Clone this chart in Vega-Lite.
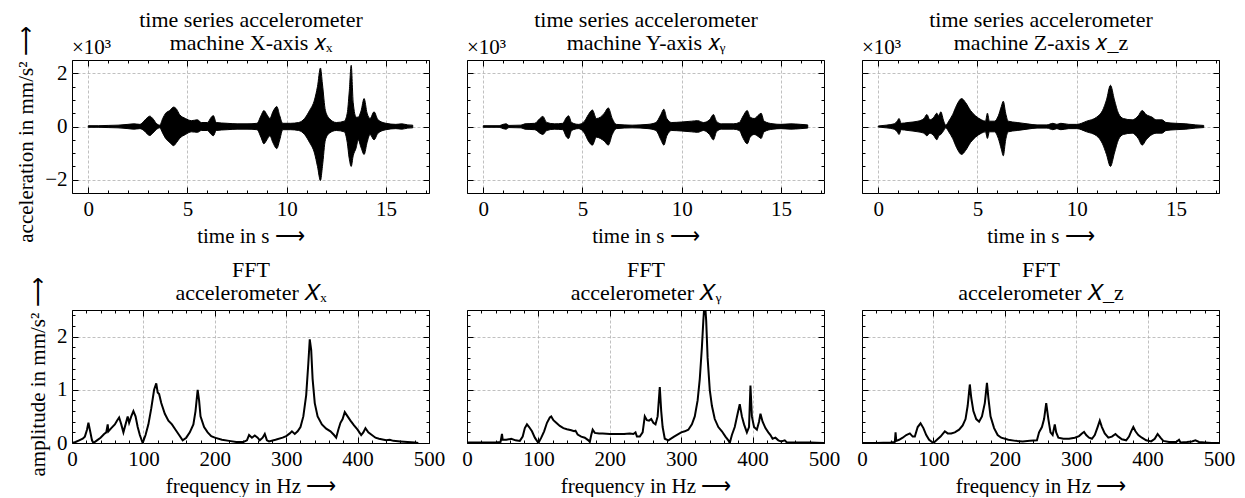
{
"$schema": "https://vega.github.io/schema/vega-lite/v6.json",
"padding": {"left": 15, "top": 8, "right": 3, "bottom": 0},
"background": "white",
"config": {
  "font": "Liberation Serif",
  "view": {"stroke": "black", "strokeWidth": 1},
  "axis": {"labelFont": "Liberation Serif", "labelFontSize": 21, "labelColor": "black", "titleFont": "Liberation Serif", "titleFontSize": 21, "titleFontWeight": "normal", "titleColor": "black", "domain": false, "tickColor": "black", "tickWidth": 1, "gridColor": "#b0b0b0", "gridDash": [3, 2], "gridWidth": 0.8, "labelFlush": false, "labelOverlap": false, "labelPadding": 11, "titlePadding": 3}
},
"datasets": {
  "tx": [{"t":0,"hi":0.03,"lo":-0.03},{"t":0.5,"hi":0.03,"lo":-0.03},{"t":1.0,"hi":0.04,"lo":-0.04},{"t":1.5,"hi":0.05,"lo":-0.05},{"t":2.0,"hi":0.08,"lo":-0.08},{"t":2.3,"hi":0.1,"lo":-0.1},{"t":2.6,"hi":0.08,"lo":-0.08},{"t":2.8,"hi":0.2,"lo":-0.15},{"t":3.0,"hi":0.35,"lo":-0.3},{"t":3.1,"hi":0.39,"lo":-0.34},{"t":3.25,"hi":0.3,"lo":-0.25},{"t":3.45,"hi":0.1,"lo":-0.1},{"t":3.6,"hi":0.05,"lo":-0.05},{"t":3.75,"hi":0.3,"lo":-0.25},{"t":3.9,"hi":0.5,"lo":-0.45},{"t":4.1,"hi":0.6,"lo":-0.6},{"t":4.3,"hi":0.73,"lo":-0.72},{"t":4.45,"hi":0.65,"lo":-0.6},{"t":4.6,"hi":0.45,"lo":-0.45},{"t":4.9,"hi":0.3,"lo":-0.3},{"t":5.2,"hi":0.22,"lo":-0.2},{"t":5.5,"hi":0.25,"lo":-0.22},{"t":5.7,"hi":0.15,"lo":-0.15},{"t":6.0,"hi":0.15,"lo":-0.15},{"t":6.2,"hi":0.35,"lo":-0.3},{"t":6.3,"hi":0.41,"lo":-0.35},{"t":6.45,"hi":0.15,"lo":-0.15},{"t":7.0,"hi":0.12,"lo":-0.12},{"t":7.5,"hi":0.1,"lo":-0.1},{"t":8.0,"hi":0.1,"lo":-0.1},{"t":8.5,"hi":0.12,"lo":-0.12},{"t":8.7,"hi":0.4,"lo":-0.4},{"t":8.85,"hi":0.6,"lo":-0.65},{"t":9.0,"hi":0.45,"lo":-0.5},{"t":9.15,"hi":0.3,"lo":-0.35},{"t":9.3,"hi":0.55,"lo":-0.6},{"t":9.5,"hi":0.75,"lo":-0.83},{"t":9.65,"hi":0.4,"lo":-0.5},{"t":9.8,"hi":0.12,"lo":-0.12},{"t":10.2,"hi":0.12,"lo":-0.12},{"t":10.6,"hi":0.15,"lo":-0.15},{"t":10.9,"hi":0.3,"lo":-0.3},{"t":11.15,"hi":0.6,"lo":-0.6},{"t":11.4,"hi":1.0,"lo":-1.0},{"t":11.55,"hi":1.5,"lo":-1.5},{"t":11.7,"hi":2.2,"lo":-2.03},{"t":11.8,"hi":1.6,"lo":-1.5},{"t":11.95,"hi":0.6,"lo":-0.5},{"t":12.15,"hi":0.3,"lo":-0.25},{"t":12.5,"hi":0.15,"lo":-0.15},{"t":12.9,"hi":0.2,"lo":-0.2},{"t":13.05,"hi":0.5,"lo":-0.6},{"t":13.15,"hi":1.3,"lo":-1.2},{"t":13.25,"hi":2.3,"lo":-1.5},{"t":13.35,"hi":0.9,"lo":-1.1},{"t":13.5,"hi":0.35,"lo":-0.8},{"t":13.6,"hi":0.35,"lo":-0.5},{"t":13.75,"hi":0.6,"lo":-0.8},{"t":13.9,"hi":1.05,"lo":-1.05},{"t":14.05,"hi":0.5,"lo":-0.6},{"t":14.2,"hi":0.3,"lo":-0.3},{"t":14.4,"hi":0.55,"lo":-0.5},{"t":14.6,"hi":0.25,"lo":-0.25},{"t":15.0,"hi":0.12,"lo":-0.12},{"t":15.5,"hi":0.08,"lo":-0.08},{"t":15.8,"hi":0.1,"lo":-0.1},{"t":16.1,"hi":0.06,"lo":-0.06},{"t":16.35,"hi":0.05,"lo":-0.05}],
  "ty": [{"t":0,"hi":0.03,"lo":-0.03},{"t":0.8,"hi":0.03,"lo":-0.03},{"t":1.0,"hi":0.08,"lo":-0.08},{"t":1.15,"hi":0.1,"lo":-0.1},{"t":1.3,"hi":0.04,"lo":-0.04},{"t":1.9,"hi":0.05,"lo":-0.05},{"t":2.1,"hi":0.1,"lo":-0.1},{"t":2.6,"hi":0.12,"lo":-0.12},{"t":2.85,"hi":0.3,"lo":-0.25},{"t":3.0,"hi":0.38,"lo":-0.3},{"t":3.2,"hi":0.15,"lo":-0.15},{"t":3.6,"hi":0.1,"lo":-0.1},{"t":4.0,"hi":0.12,"lo":-0.12},{"t":4.2,"hi":0.35,"lo":-0.4},{"t":4.3,"hi":0.4,"lo":-0.45},{"t":4.45,"hi":0.15,"lo":-0.15},{"t":4.8,"hi":0.08,"lo":-0.08},{"t":5.1,"hi":0.2,"lo":-0.25},{"t":5.3,"hi":0.45,"lo":-0.55},{"t":5.5,"hi":0.62,"lo":-0.7},{"t":5.7,"hi":0.3,"lo":-0.4},{"t":5.9,"hi":0.35,"lo":-0.45},{"t":6.1,"hi":0.5,"lo":-0.55},{"t":6.3,"hi":0.7,"lo":-0.7},{"t":6.5,"hi":0.3,"lo":-0.3},{"t":6.7,"hi":0.08,"lo":-0.08},{"t":7.5,"hi":0.05,"lo":-0.05},{"t":8.3,"hi":0.08,"lo":-0.08},{"t":8.7,"hi":0.15,"lo":-0.15},{"t":8.95,"hi":0.45,"lo":-0.5},{"t":9.1,"hi":0.65,"lo":-0.7},{"t":9.25,"hi":0.3,"lo":-0.35},{"t":9.5,"hi":0.15,"lo":-0.15},{"t":10.0,"hi":0.17,"lo":-0.17},{"t":10.5,"hi":0.2,"lo":-0.2},{"t":10.8,"hi":0.22,"lo":-0.22},{"t":11.1,"hi":0.15,"lo":-0.15},{"t":11.4,"hi":0.25,"lo":-0.3},{"t":11.6,"hi":0.45,"lo":-0.5},{"t":11.75,"hi":0.2,"lo":-0.2},{"t":12.0,"hi":0.1,"lo":-0.1},{"t":12.6,"hi":0.1,"lo":-0.1},{"t":12.9,"hi":0.15,"lo":-0.15},{"t":13.1,"hi":0.4,"lo":-0.45},{"t":13.3,"hi":0.6,"lo":-0.65},{"t":13.45,"hi":0.35,"lo":-0.4},{"t":13.65,"hi":0.3,"lo":-0.3},{"t":13.9,"hi":0.45,"lo":-0.4},{"t":14.0,"hi":0.5,"lo":-0.45},{"t":14.15,"hi":0.2,"lo":-0.2},{"t":14.6,"hi":0.1,"lo":-0.1},{"t":15.0,"hi":0.08,"lo":-0.08},{"t":15.5,"hi":0.1,"lo":-0.1},{"t":16.0,"hi":0.08,"lo":-0.08},{"t":16.35,"hi":0.06,"lo":-0.06}],
  "tz": [{"t":0,"hi":0.02,"lo":-0.02},{"t":0.4,"hi":0.05,"lo":-0.05},{"t":0.8,"hi":0.1,"lo":-0.1},{"t":0.95,"hi":0.2,"lo":-0.2},{"t":1.05,"hi":0.3,"lo":-0.3},{"t":1.15,"hi":0.12,"lo":-0.12},{"t":1.5,"hi":0.15,"lo":-0.15},{"t":2.0,"hi":0.2,"lo":-0.2},{"t":2.3,"hi":0.3,"lo":-0.25},{"t":2.45,"hi":0.45,"lo":-0.35},{"t":2.6,"hi":0.25,"lo":-0.25},{"t":2.8,"hi":0.35,"lo":-0.35},{"t":2.95,"hi":0.5,"lo":-0.5},{"t":3.05,"hi":0.4,"lo":-0.35},{"t":3.15,"hi":0.55,"lo":-0.3},{"t":3.3,"hi":0.2,"lo":-0.15},{"t":3.4,"hi":0.05,"lo":-0.05},{"t":3.55,"hi":0.2,"lo":-0.2},{"t":3.75,"hi":0.45,"lo":-0.45},{"t":3.95,"hi":0.8,"lo":-0.8},{"t":4.2,"hi":1.05,"lo":-1.05},{"t":4.4,"hi":0.9,"lo":-0.9},{"t":4.65,"hi":0.6,"lo":-0.6},{"t":4.9,"hi":0.4,"lo":-0.4},{"t":5.2,"hi":0.25,"lo":-0.25},{"t":5.4,"hi":0.2,"lo":-0.2},{"t":5.5,"hi":0.5,"lo":-0.45},{"t":5.6,"hi":0.2,"lo":-0.2},{"t":5.85,"hi":0.2,"lo":-0.2},{"t":6.05,"hi":0.4,"lo":-0.45},{"t":6.2,"hi":0.75,"lo":-0.85},{"t":6.3,"hi":0.95,"lo":-1.1},{"t":6.42,"hi":0.5,"lo":-0.5},{"t":6.55,"hi":0.2,"lo":-0.2},{"t":7.0,"hi":0.15,"lo":-0.15},{"t":7.5,"hi":0.1,"lo":-0.1},{"t":8.0,"hi":0.06,"lo":-0.06},{"t":8.5,"hi":0.06,"lo":-0.06},{"t":8.8,"hi":0.12,"lo":-0.12},{"t":9.0,"hi":0.08,"lo":-0.08},{"t":9.2,"hi":0.12,"lo":-0.12},{"t":9.6,"hi":0.08,"lo":-0.08},{"t":10.0,"hi":0.08,"lo":-0.08},{"t":10.5,"hi":0.2,"lo":-0.2},{"t":11.0,"hi":0.35,"lo":-0.35},{"t":11.3,"hi":0.6,"lo":-0.65},{"t":11.5,"hi":1.0,"lo":-1.05},{"t":11.7,"hi":1.55,"lo":-1.5},{"t":11.9,"hi":1.0,"lo":-1.0},{"t":12.1,"hi":0.5,"lo":-0.5},{"t":12.35,"hi":0.3,"lo":-0.3},{"t":12.8,"hi":0.25,"lo":-0.25},{"t":13.1,"hi":0.4,"lo":-0.45},{"t":13.3,"hi":0.6,"lo":-0.7},{"t":13.5,"hi":0.45,"lo":-0.5},{"t":13.8,"hi":0.35,"lo":-0.3},{"t":14.0,"hi":0.25,"lo":-0.25},{"t":14.3,"hi":0.25,"lo":-0.25},{"t":14.5,"hi":0.15,"lo":-0.15},{"t":15.0,"hi":0.12,"lo":-0.12},{"t":15.5,"hi":0.1,"lo":-0.1},{"t":16.0,"hi":0.06,"lo":-0.06},{"t":16.4,"hi":0.04,"lo":-0.04}],
  "fx": [{"f":0,"a":0},{"f":5,"a":0.02},{"f":10,"a":0.05},{"f":15,"a":0.08},{"f":18,"a":0.12},{"f":21,"a":0.25},{"f":23,"a":0.38},{"f":25,"a":0.25},{"f":28,"a":0.05},{"f":30,"a":0.0},{"f":35,"a":0.05},{"f":40,"a":0.1},{"f":45,"a":0.17},{"f":48,"a":0.2},{"f":50,"a":0.35},{"f":51,"a":0.22},{"f":55,"a":0.28},{"f":60,"a":0.35},{"f":63,"a":0.42},{"f":66,"a":0.48},{"f":69,"a":0.35},{"f":72,"a":0.2},{"f":75,"a":0.35},{"f":78,"a":0.5},{"f":80,"a":0.38},{"f":83,"a":0.5},{"f":86,"a":0.6},{"f":89,"a":0.5},{"f":92,"a":0.3},{"f":95,"a":0.15},{"f":99,"a":0.0},{"f":103,"a":0.15},{"f":107,"a":0.35},{"f":111,"a":0.65},{"f":115,"a":1.0},{"f":118,"a":1.12},{"f":120,"a":0.95},{"f":122,"a":0.92},{"f":125,"a":0.75},{"f":130,"a":0.55},{"f":135,"a":0.42},{"f":140,"a":0.35},{"f":145,"a":0.25},{"f":150,"a":0.15},{"f":155,"a":0.05},{"f":160,"a":0.1},{"f":165,"a":0.2},{"f":170,"a":0.35},{"f":173,"a":0.6},{"f":176,"a":1.0},{"f":178,"a":0.8},{"f":180,"a":0.5},{"f":185,"a":0.3},{"f":190,"a":0.2},{"f":195,"a":0.13},{"f":200,"a":0.1},{"f":210,"a":0.06},{"f":220,"a":0.04},{"f":230,"a":0.02},{"f":240,"a":0.02},{"f":245,"a":0.05},{"f":248,"a":0.15},{"f":252,"a":0.1},{"f":256,"a":0.14},{"f":260,"a":0.1},{"f":263,"a":0.05},{"f":267,"a":0.1},{"f":270,"a":0.17},{"f":273,"a":0.05},{"f":276,"a":0.03},{"f":285,"a":0.06},{"f":295,"a":0.1},{"f":300,"a":0.13},{"f":305,"a":0.18},{"f":308,"a":0.22},{"f":312,"a":0.17},{"f":316,"a":0.22},{"f":320,"a":0.3},{"f":324,"a":0.5},{"f":328,"a":0.9},{"f":331,"a":1.5},{"f":333,"a":1.95},{"f":335,"a":1.75},{"f":337,"a":1.2},{"f":340,"a":0.75},{"f":344,"a":0.5},{"f":350,"a":0.35},{"f":356,"a":0.27},{"f":362,"a":0.22},{"f":367,"a":0.15},{"f":370,"a":0.1},{"f":373,"a":0.25},{"f":376,"a":0.38},{"f":379,"a":0.45},{"f":382,"a":0.58},{"f":386,"a":0.5},{"f":390,"a":0.42},{"f":395,"a":0.33},{"f":400,"a":0.25},{"f":405,"a":0.15},{"f":408,"a":0.2},{"f":411,"a":0.28},{"f":415,"a":0.2},{"f":420,"a":0.15},{"f":425,"a":0.1},{"f":430,"a":0.08},{"f":440,"a":0.05},{"f":445,"a":0.06},{"f":450,"a":0.04},{"f":460,"a":0.03},{"f":470,"a":0.02},{"f":480,"a":0.01},{"f":485,"a":0.0}],
  "fy": [{"f":0,"a":0.01},{"f":20,"a":0.01},{"f":40,"a":0.01},{"f":47,"a":0.02},{"f":49,"a":0.17},{"f":50,"a":0.06},{"f":55,"a":0.06},{"f":62,"a":0.08},{"f":68,"a":0.05},{"f":74,"a":0.04},{"f":78,"a":0.12},{"f":81,"a":0.28},{"f":84,"a":0.35},{"f":87,"a":0.3},{"f":91,"a":0.22},{"f":95,"a":0.1},{"f":100,"a":0.0},{"f":104,"a":0.1},{"f":108,"a":0.22},{"f":112,"a":0.38},{"f":116,"a":0.48},{"f":118,"a":0.5},{"f":121,"a":0.43},{"f":125,"a":0.38},{"f":130,"a":0.32},{"f":135,"a":0.28},{"f":140,"a":0.26},{"f":146,"a":0.24},{"f":150,"a":0.22},{"f":152,"a":0.23},{"f":155,"a":0.16},{"f":160,"a":0.12},{"f":165,"a":0.1},{"f":170,"a":0.05},{"f":172,"a":0.02},{"f":174,"a":0.15},{"f":176,"a":0.25},{"f":179,"a":0.19},{"f":185,"a":0.18},{"f":190,"a":0.18},{"f":200,"a":0.17},{"f":210,"a":0.17},{"f":220,"a":0.17},{"f":228,"a":0.18},{"f":233,"a":0.17},{"f":236,"a":0.2},{"f":238,"a":0.12},{"f":242,"a":0.12},{"f":246,"a":0.2},{"f":249,"a":0.5},{"f":252,"a":0.43},{"f":255,"a":0.42},{"f":258,"a":0.45},{"f":261,"a":0.38},{"f":264,"a":0.35},{"f":267,"a":0.5},{"f":270,"a":1.05},{"f":272,"a":0.6},{"f":274,"a":0.3},{"f":277,"a":0.08},{"f":282,"a":0.05},{"f":290,"a":0.12},{"f":300,"a":0.2},{"f":305,"a":0.22},{"f":310,"a":0.25},{"f":315,"a":0.35},{"f":319,"a":0.5},{"f":323,"a":0.8},{"f":326,"a":1.2},{"f":329,"a":1.8},{"f":331,"a":2.3},{"f":333,"a":2.7},{"f":335,"a":2.3},{"f":337,"a":1.6},{"f":340,"a":1.0},{"f":343,"a":0.7},{"f":347,"a":0.45},{"f":352,"a":0.3},{"f":357,"a":0.22},{"f":362,"a":0.12},{"f":366,"a":0.05},{"f":368,"a":0.0},{"f":371,"a":0.15},{"f":375,"a":0.3},{"f":379,"a":0.55},{"f":382,"a":0.73},{"f":385,"a":0.5},{"f":388,"a":0.35},{"f":392,"a":0.2},{"f":395,"a":0.3},{"f":397,"a":1.08},{"f":399,"a":0.5},{"f":402,"a":0.3},{"f":406,"a":0.25},{"f":409,"a":0.4},{"f":411,"a":0.55},{"f":414,"a":0.4},{"f":418,"a":0.28},{"f":422,"a":0.2},{"f":425,"a":0.15},{"f":428,"a":0.08},{"f":432,"a":0.1},{"f":436,"a":0.05},{"f":440,"a":0.03},{"f":445,"a":0.05},{"f":448,"a":0.01},{"f":460,"a":0.01},{"f":480,"a":0.01},{"f":500,"a":0.0}],
  "fz": [{"f":0,"a":0.0},{"f":20,"a":0.0},{"f":40,"a":0.01},{"f":46,"a":0.02},{"f":47,"a":0.2},{"f":48,"a":0.04},{"f":52,"a":0.06},{"f":57,"a":0.1},{"f":62,"a":0.15},{"f":67,"a":0.18},{"f":71,"a":0.12},{"f":74,"a":0.12},{"f":78,"a":0.3},{"f":82,"a":0.37},{"f":86,"a":0.28},{"f":90,"a":0.15},{"f":94,"a":0.06},{"f":100,"a":0.0},{"f":105,"a":0.06},{"f":110,"a":0.12},{"f":116,"a":0.22},{"f":120,"a":0.18},{"f":125,"a":0.18},{"f":130,"a":0.2},{"f":136,"a":0.25},{"f":141,"a":0.33},{"f":145,"a":0.45},{"f":148,"a":0.7},{"f":151,"a":1.1},{"f":153,"a":0.85},{"f":156,"a":0.6},{"f":160,"a":0.45},{"f":164,"a":0.4},{"f":168,"a":0.5},{"f":172,"a":0.75},{"f":175,"a":1.13},{"f":177,"a":0.85},{"f":180,"a":0.5},{"f":185,"a":0.28},{"f":190,"a":0.15},{"f":195,"a":0.1},{"f":205,"a":0.06},{"f":215,"a":0.04},{"f":225,"a":0.03},{"f":235,"a":0.04},{"f":245,"a":0.05},{"f":248,"a":0.2},{"f":252,"a":0.3},{"f":255,"a":0.45},{"f":258,"a":0.75},{"f":261,"a":0.45},{"f":264,"a":0.2},{"f":267,"a":0.15},{"f":270,"a":0.35},{"f":272,"a":0.2},{"f":275,"a":0.1},{"f":282,"a":0.08},{"f":290,"a":0.08},{"f":298,"a":0.1},{"f":304,"a":0.13},{"f":308,"a":0.18},{"f":311,"a":0.21},{"f":314,"a":0.15},{"f":318,"a":0.1},{"f":322,"a":0.08},{"f":326,"a":0.15},{"f":330,"a":0.3},{"f":333,"a":0.42},{"f":336,"a":0.3},{"f":340,"a":0.18},{"f":345,"a":0.1},{"f":350,"a":0.12},{"f":355,"a":0.17},{"f":359,"a":0.12},{"f":364,"a":0.07},{"f":370,"a":0.05},{"f":374,"a":0.12},{"f":377,"a":0.22},{"f":380,"a":0.3},{"f":383,"a":0.22},{"f":387,"a":0.15},{"f":392,"a":0.1},{"f":398,"a":0.05},{"f":405,"a":0.03},{"f":410,"a":0.08},{"f":414,"a":0.17},{"f":418,"a":0.1},{"f":422,"a":0.04},{"f":430,"a":0.02},{"f":440,"a":0.02},{"f":444,"a":0.06},{"f":446,"a":0.01},{"f":455,"a":0.02},{"f":462,"a":0.03},{"f":467,"a":0.05},{"f":472,"a":0.02},{"f":480,"a":0.01},{"f":490,"a":0.0},{"f":500,"a":0.0}]
},
"columns": 3,
"bounds": "flush",
"spacing": {"row": 117, "column": 38},
"concat": [
  {"width": 357, "height": 133,
   "resolve": {"axis": {"x": "independent", "y": "independent"}},
   "layer": [
    {"data": {"name": "tx"}, "mark": {"type": "area", "color": "black", "stroke": "black", "strokeWidth": 1, "interpolate": "monotone", "clip": true},
     "encoding": {
      "x": {"field": "t", "type": "quantitative", "scale": {"domain": [-0.82, 17.17], "nice": false, "zero": false},
            "axis": {"orient": "bottom", "values": [0,1,2,3,4,5,6,7,8,9,10,11,12,13,14,15,16,17], "format": "d", "labelOverlap": false, "labelExpr": "datum.value % 5 === 0 ? datum.label : ''", "tickSize": {"condition": {"test": "datum.value % 5 === 0", "value": -6}, "value": -3}, "grid": true, "gridOpacity": {"condition": {"test": "datum.value % 5 === 0", "value": 1}, "value": 0}, "title": "time in s ⟶"}},
      "y": {"field": "hi", "type": "quantitative", "scale": {"domain": [-2.5, 2.5], "nice": false, "zero": false},
            "axis": {"orient": "left", "values": [-2, 0, 2], "format": "d", "labelOverlap": false, "tickSize": -6, "grid": true, "title": "acceleration in mm/s² ⟶", "titlePadding": 8, "titleY": 74}},
      "y2": {"field": "lo"}}},
    {"data": {"values": [{"label": "×10³"}]}, "mark": {"type": "text", "align": "left", "baseline": "bottom", "dy": -2, "font": "Liberation Serif", "fontSize": 21, "color": "black"},
     "encoding": {
      "text": {"field": "label"},
      "x": {"datum": -0.82, "type": "quantitative", "scale": {"domain": [-0.82, 17.17], "nice": false, "zero": false},
            "axis": {"orient": "top", "values": [0,1,2,3,4,5,6,7,8,9,10,11,12,13,14,15,16,17], "labels": false, "grid": false, "tickSize": {"condition": {"test": "datum.value % 5 === 0", "value": -6}, "value": -3}, "title": ["time series accelerometer", "machine X-axis 𝑥ₓ"], "titleFontSize": 22, "titleLineHeight": 23, "titlePadding": 5}},
      "y": {"datum": 2.5, "type": "quantitative", "scale": {"domain": [-2.5, 2.5], "nice": false, "zero": false},
            "axis": {"orient": "right", "values": [-2.5,-2,-1.5,-1,-0.5,0,0.5,1,1.5,2,2.5], "labels": false, "grid": false, "title": null, "tickSize": {"condition": {"test": "datum.value % 2 === 0", "value": -6}, "value": -3}}}}},
    {"data": {"values": [{"label": ""}]}, "mark": {"type": "text"},
     "encoding": {
      "text": {"field": "label"},
      "y": {"datum": 0, "type": "quantitative", "scale": {"domain": [-2.5, 2.5], "nice": false, "zero": false},
            "axis": {"orient": "left", "values": [-2.5,-1.5,-1,-0.5,0.5,1,1.5,2.5], "labels": false, "grid": false, "title": null, "tickSize": -3}}}}
   ]},
  {"width": 357, "height": 133,
   "resolve": {"axis": {"x": "independent", "y": "independent"}},
   "layer": [
    {"data": {"name": "ty"}, "mark": {"type": "area", "color": "black", "stroke": "black", "strokeWidth": 1, "interpolate": "monotone", "clip": true},
     "encoding": {
      "x": {"field": "t", "type": "quantitative", "scale": {"domain": [-0.82, 17.17], "nice": false, "zero": false},
            "axis": {"orient": "bottom", "values": [0,1,2,3,4,5,6,7,8,9,10,11,12,13,14,15,16,17], "format": "d", "labelOverlap": false, "labelExpr": "datum.value % 5 === 0 ? datum.label : ''", "tickSize": {"condition": {"test": "datum.value % 5 === 0", "value": -6}, "value": -3}, "grid": true, "gridOpacity": {"condition": {"test": "datum.value % 5 === 0", "value": 1}, "value": 0}, "title": "time in s ⟶"}},
      "y": {"field": "hi", "type": "quantitative", "scale": {"domain": [-2.5, 2.5], "nice": false, "zero": false},
            "axis": {"orient": "left", "values": [-2.5,-2,-1.5,-1,-0.5,0,0.5,1,1.5,2,2.5], "labels": false, "tickSize": {"condition": {"test": "datum.value % 2 === 0", "value": -6}, "value": -3}, "grid": true, "gridOpacity": {"condition": {"test": "datum.value % 2 === 0", "value": 1}, "value": 0}, "title": null}},
      "y2": {"field": "lo"}}},
    {"data": {"values": [{"label": "×10³"}]}, "mark": {"type": "text", "align": "left", "baseline": "bottom", "dy": -2, "font": "Liberation Serif", "fontSize": 21, "color": "black"},
     "encoding": {
      "text": {"field": "label"},
      "x": {"datum": -0.82, "type": "quantitative", "scale": {"domain": [-0.82, 17.17], "nice": false, "zero": false},
            "axis": {"orient": "top", "values": [0,1,2,3,4,5,6,7,8,9,10,11,12,13,14,15,16,17], "labels": false, "grid": false, "tickSize": {"condition": {"test": "datum.value % 5 === 0", "value": -6}, "value": -3}, "title": ["time series accelerometer", "machine Y-axis 𝑥ᵧ"], "titleFontSize": 22, "titleLineHeight": 23, "titlePadding": 5}},
      "y": {"datum": 2.5, "type": "quantitative", "scale": {"domain": [-2.5, 2.5], "nice": false, "zero": false},
            "axis": {"orient": "right", "values": [-2.5,-2,-1.5,-1,-0.5,0,0.5,1,1.5,2,2.5], "labels": false, "grid": false, "title": null, "tickSize": {"condition": {"test": "datum.value % 2 === 0", "value": -6}, "value": -3}}}}}
   ]},
  {"width": 357, "height": 133,
   "resolve": {"axis": {"x": "independent", "y": "independent"}},
   "layer": [
    {"data": {"name": "tz"}, "mark": {"type": "area", "color": "black", "stroke": "black", "strokeWidth": 1, "interpolate": "monotone", "clip": true},
     "encoding": {
      "x": {"field": "t", "type": "quantitative", "scale": {"domain": [-0.82, 17.17], "nice": false, "zero": false},
            "axis": {"orient": "bottom", "values": [0,1,2,3,4,5,6,7,8,9,10,11,12,13,14,15,16,17], "format": "d", "labelOverlap": false, "labelExpr": "datum.value % 5 === 0 ? datum.label : ''", "tickSize": {"condition": {"test": "datum.value % 5 === 0", "value": -6}, "value": -3}, "grid": true, "gridOpacity": {"condition": {"test": "datum.value % 5 === 0", "value": 1}, "value": 0}, "title": "time in s ⟶"}},
      "y": {"field": "hi", "type": "quantitative", "scale": {"domain": [-2.5, 2.5], "nice": false, "zero": false},
            "axis": {"orient": "left", "values": [-2.5,-2,-1.5,-1,-0.5,0,0.5,1,1.5,2,2.5], "labels": false, "tickSize": {"condition": {"test": "datum.value % 2 === 0", "value": -6}, "value": -3}, "grid": true, "gridOpacity": {"condition": {"test": "datum.value % 2 === 0", "value": 1}, "value": 0}, "title": null}},
      "y2": {"field": "lo"}}},
    {"data": {"values": [{"label": "×10³"}]}, "mark": {"type": "text", "align": "left", "baseline": "bottom", "dy": -2, "font": "Liberation Serif", "fontSize": 21, "color": "black"},
     "encoding": {
      "text": {"field": "label"},
      "x": {"datum": -0.82, "type": "quantitative", "scale": {"domain": [-0.82, 17.17], "nice": false, "zero": false},
            "axis": {"orient": "top", "values": [0,1,2,3,4,5,6,7,8,9,10,11,12,13,14,15,16,17], "labels": false, "grid": false, "tickSize": {"condition": {"test": "datum.value % 5 === 0", "value": -6}, "value": -3}, "title": ["time series accelerometer", "machine Z-axis 𝑥_z"], "titleFontSize": 22, "titleLineHeight": 23, "titlePadding": 5}},
      "y": {"datum": 2.5, "type": "quantitative", "scale": {"domain": [-2.5, 2.5], "nice": false, "zero": false},
            "axis": {"orient": "right", "values": [-2.5,-2,-1.5,-1,-0.5,0,0.5,1,1.5,2,2.5], "labels": false, "grid": false, "title": null, "tickSize": {"condition": {"test": "datum.value % 2 === 0", "value": -6}, "value": -3}}}}}
   ]},
  {"width": 357, "height": 133,
   "resolve": {"axis": {"x": "independent", "y": "independent"}},
   "layer": [
    {"data": {"name": "fx"}, "mark": {"type": "line", "color": "black", "strokeWidth": 2, "clip": true},
     "encoding": {
      "x": {"field": "f", "type": "quantitative", "scale": {"domain": [0, 500], "nice": false},
            "axis": {"orient": "bottom", "values": [0,20,40,60,80,100,120,140,160,180,200,220,240,260,280,300,320,340,360,380,400,420,440,460,480,500], "format": "d", "labelOverlap": false, "labelExpr": "datum.value % 100 === 0 ? datum.label : ''", "tickSize": {"condition": {"test": "datum.value % 100 === 0", "value": -6}, "value": -3}, "grid": true, "gridOpacity": {"condition": {"test": "datum.value % 100 === 0 && datum.value > 0 && datum.value < 500", "value": 1}, "value": 0}, "title": "frequency in Hz ⟶"}},
      "y": {"field": "a", "type": "quantitative", "scale": {"domain": [0, 2.5], "nice": false},
            "axis": {"orient": "left", "values": [0, 1, 2], "format": "d", "labelOverlap": false, "tickSize": -6, "grid": true, "gridOpacity": {"condition": {"test": "datum.value > 0", "value": 1}, "value": 0}, "title": "amplitude in mm/s² ⟶", "titlePadding": 8}}}},
    {"data": {"values": [{"label": ""}]}, "mark": {"type": "text"},
     "encoding": {
      "text": {"field": "label"},
      "x": {"datum": 0, "type": "quantitative", "scale": {"domain": [0, 500], "nice": false},
            "axis": {"orient": "top", "values": [0,20,40,60,80,100,120,140,160,180,200,220,240,260,280,300,320,340,360,380,400,420,440,460,480,500], "labels": false, "grid": false, "tickSize": {"condition": {"test": "datum.value % 100 === 0", "value": -6}, "value": -3}, "title": ["FFT", "accelerometer 𝑋ₓ"], "titleFontSize": 22, "titleLineHeight": 23, "titlePadding": 5}},
      "y": {"datum": 0, "type": "quantitative", "scale": {"domain": [0, 2.5], "nice": false},
            "axis": {"orient": "right", "values": [0,0.2,0.4,0.6,0.8,1,1.2,1.4,1.6,1.8,2,2.2,2.4], "labels": false, "grid": false, "title": null, "tickSize": {"condition": {"test": "datum.value % 1 === 0", "value": -6}, "value": -3}}}}},
    {"data": {"values": [{"label": ""}]}, "mark": {"type": "text"},
     "encoding": {
      "text": {"field": "label"},
      "y": {"datum": 0, "type": "quantitative", "scale": {"domain": [0, 2.5], "nice": false},
            "axis": {"orient": "left", "values": [0.2,0.4,0.6,0.8,1.2,1.4,1.6,1.8,2.2,2.4], "labels": false, "grid": false, "title": null, "tickSize": -3}}}}
   ]},
  {"width": 357, "height": 133,
   "resolve": {"axis": {"x": "independent", "y": "independent"}},
   "layer": [
    {"data": {"name": "fy"}, "mark": {"type": "line", "color": "black", "strokeWidth": 2, "clip": true},
     "encoding": {
      "x": {"field": "f", "type": "quantitative", "scale": {"domain": [0, 500], "nice": false},
            "axis": {"orient": "bottom", "values": [0,20,40,60,80,100,120,140,160,180,200,220,240,260,280,300,320,340,360,380,400,420,440,460,480,500], "format": "d", "labelOverlap": false, "labelExpr": "datum.value % 100 === 0 ? datum.label : ''", "tickSize": {"condition": {"test": "datum.value % 100 === 0", "value": -6}, "value": -3}, "grid": true, "gridOpacity": {"condition": {"test": "datum.value % 100 === 0 && datum.value > 0 && datum.value < 500", "value": 1}, "value": 0}, "title": "frequency in Hz ⟶"}},
      "y": {"field": "a", "type": "quantitative", "scale": {"domain": [0, 2.5], "nice": false},
            "axis": {"orient": "left", "values": [0,0.2,0.4,0.6,0.8,1,1.2,1.4,1.6,1.8,2,2.2,2.4], "labels": false, "tickSize": {"condition": {"test": "datum.value % 1 === 0", "value": -6}, "value": -3}, "grid": true, "gridOpacity": {"condition": {"test": "datum.value % 1 === 0 && datum.value > 0", "value": 1}, "value": 0}, "title": null}}}},
    {"data": {"values": [{"label": ""}]}, "mark": {"type": "text"},
     "encoding": {
      "text": {"field": "label"},
      "x": {"datum": 0, "type": "quantitative", "scale": {"domain": [0, 500], "nice": false},
            "axis": {"orient": "top", "values": [0,20,40,60,80,100,120,140,160,180,200,220,240,260,280,300,320,340,360,380,400,420,440,460,480,500], "labels": false, "grid": false, "tickSize": {"condition": {"test": "datum.value % 100 === 0", "value": -6}, "value": -3}, "title": ["FFT", "accelerometer 𝑋ᵧ"], "titleFontSize": 22, "titleLineHeight": 23, "titlePadding": 5}},
      "y": {"datum": 0, "type": "quantitative", "scale": {"domain": [0, 2.5], "nice": false},
            "axis": {"orient": "right", "values": [0,0.2,0.4,0.6,0.8,1,1.2,1.4,1.6,1.8,2,2.2,2.4], "labels": false, "grid": false, "title": null, "tickSize": {"condition": {"test": "datum.value % 1 === 0", "value": -6}, "value": -3}}}}}
   ]},
  {"width": 357, "height": 133,
   "resolve": {"axis": {"x": "independent", "y": "independent"}},
   "layer": [
    {"data": {"name": "fz"}, "mark": {"type": "line", "color": "black", "strokeWidth": 2, "clip": true},
     "encoding": {
      "x": {"field": "f", "type": "quantitative", "scale": {"domain": [0, 500], "nice": false},
            "axis": {"orient": "bottom", "values": [0,20,40,60,80,100,120,140,160,180,200,220,240,260,280,300,320,340,360,380,400,420,440,460,480,500], "format": "d", "labelOverlap": false, "labelExpr": "datum.value % 100 === 0 ? datum.label : ''", "tickSize": {"condition": {"test": "datum.value % 100 === 0", "value": -6}, "value": -3}, "grid": true, "gridOpacity": {"condition": {"test": "datum.value % 100 === 0 && datum.value > 0 && datum.value < 500", "value": 1}, "value": 0}, "title": "frequency in Hz ⟶"}},
      "y": {"field": "a", "type": "quantitative", "scale": {"domain": [0, 2.5], "nice": false},
            "axis": {"orient": "left", "values": [0,0.2,0.4,0.6,0.8,1,1.2,1.4,1.6,1.8,2,2.2,2.4], "labels": false, "tickSize": {"condition": {"test": "datum.value % 1 === 0", "value": -6}, "value": -3}, "grid": true, "gridOpacity": {"condition": {"test": "datum.value % 1 === 0 && datum.value > 0", "value": 1}, "value": 0}, "title": null}}}},
    {"data": {"values": [{"label": ""}]}, "mark": {"type": "text"},
     "encoding": {
      "text": {"field": "label"},
      "x": {"datum": 0, "type": "quantitative", "scale": {"domain": [0, 500], "nice": false},
            "axis": {"orient": "top", "values": [0,20,40,60,80,100,120,140,160,180,200,220,240,260,280,300,320,340,360,380,400,420,440,460,480,500], "labels": false, "grid": false, "tickSize": {"condition": {"test": "datum.value % 100 === 0", "value": -6}, "value": -3}, "title": ["FFT", "accelerometer 𝑋_z"], "titleFontSize": 22, "titleLineHeight": 23, "titlePadding": 5}},
      "y": {"datum": 0, "type": "quantitative", "scale": {"domain": [0, 2.5], "nice": false},
            "axis": {"orient": "right", "values": [0,0.2,0.4,0.6,0.8,1,1.2,1.4,1.6,1.8,2,2.2,2.4], "labels": false, "grid": false, "title": null, "tickSize": {"condition": {"test": "datum.value % 1 === 0", "value": -6}, "value": -3}}}}}
   ]}
]
}
